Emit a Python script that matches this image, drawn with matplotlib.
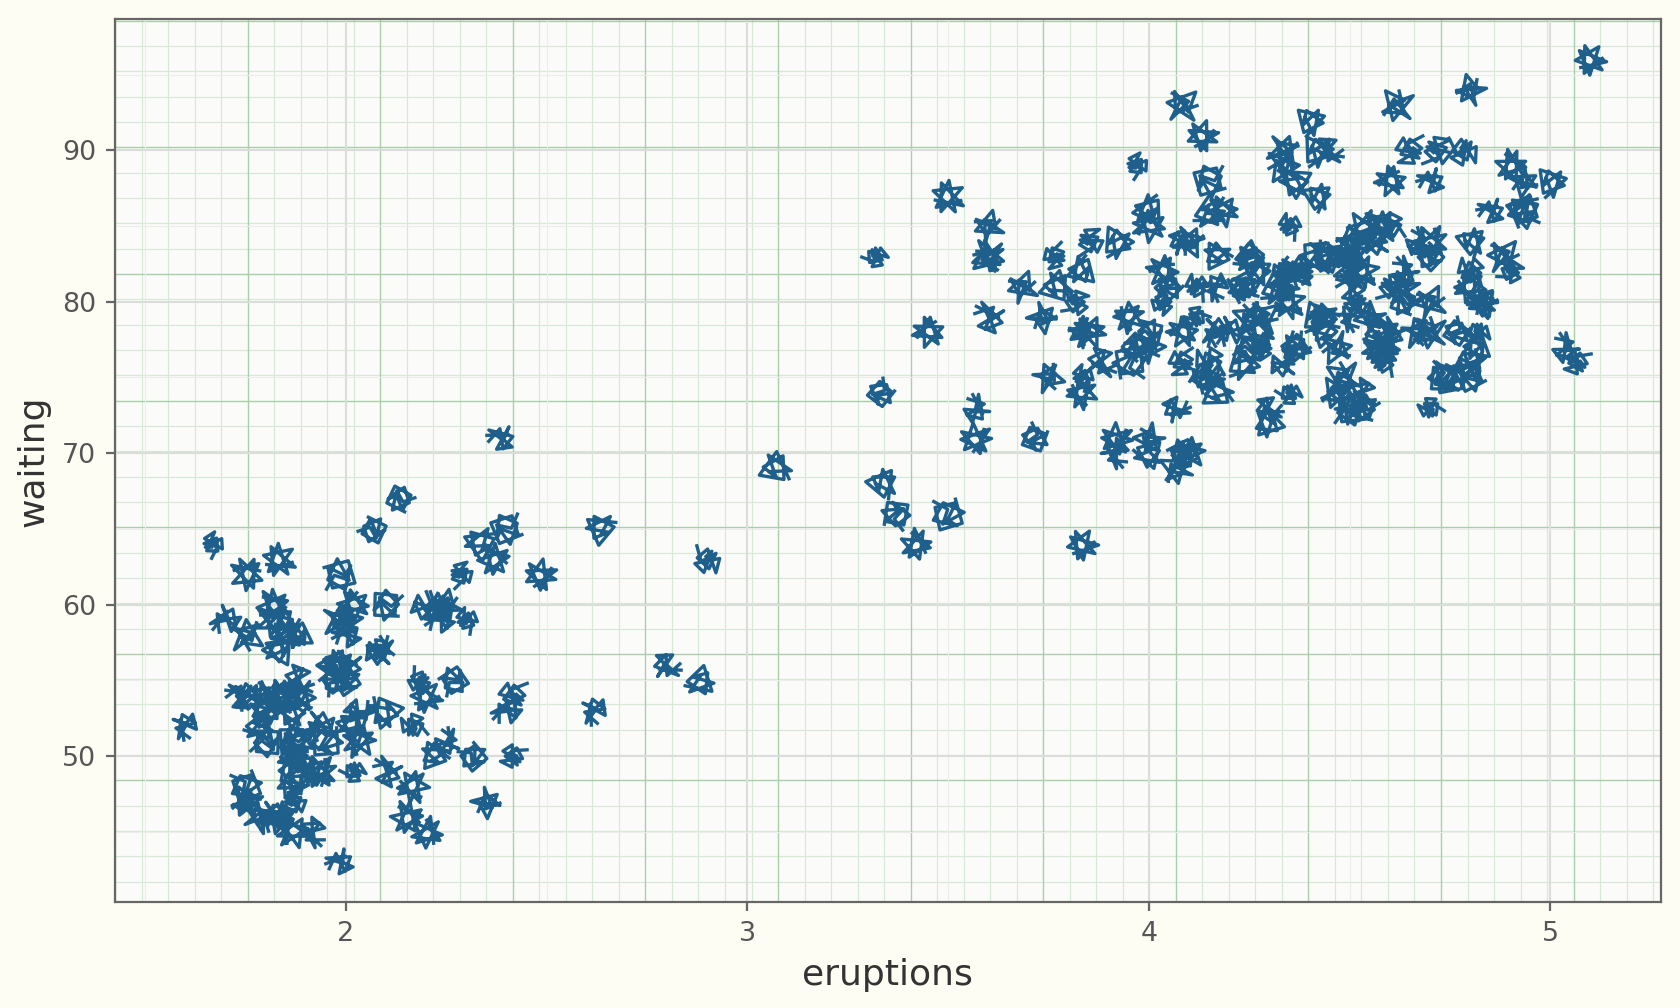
import numpy as np
import matplotlib
matplotlib.use("Agg")
import matplotlib.pyplot as plt
from matplotlib.path import Path
from matplotlib.markers import MarkerStyle
from matplotlib.collections import LineCollection
from matplotlib.ticker import MultipleLocator

# Old Faithful geyser data
eruptions = [3.600, 1.800, 3.333, 2.283, 4.533, 2.883, 4.700, 3.600, 1.950, 4.350,
             1.833, 3.917, 4.200, 1.750, 4.700, 2.167, 1.750, 4.800, 1.600, 4.250,
             1.800, 1.750, 3.450, 3.067, 4.533, 3.600, 1.967, 4.083, 3.850, 4.433,
             4.300, 4.467, 3.367, 4.033, 3.833, 2.017, 1.867, 4.833, 1.833, 4.783,
             4.350, 1.883, 4.567, 1.750, 4.533, 3.317, 3.833, 2.100, 4.633, 2.000,
             4.800, 4.716, 1.833, 4.833, 1.733, 4.883, 3.717, 1.667, 4.567, 4.317,
             2.233, 4.500, 1.750, 4.800, 1.817, 4.400, 4.167, 4.700, 2.067, 4.700,
             4.033, 1.967, 4.500, 4.000, 1.983, 5.067, 2.017, 4.567, 3.883, 3.600,
             4.133, 4.333, 4.100, 2.633, 4.067, 4.933, 3.950, 4.517, 2.167, 4.000,
             2.200, 4.333, 1.867, 4.817, 1.833, 4.300, 4.667, 3.750, 1.867, 4.900,
             2.483, 4.367, 2.100, 4.500, 4.050, 1.867, 4.700, 1.783, 4.850, 3.683,
             4.733, 2.300, 4.900, 4.417, 1.700, 4.633, 2.317, 4.600, 1.817, 4.417,
             2.617, 4.067, 4.250, 1.967, 4.600, 3.767, 1.917, 4.500, 2.267, 4.650,
             1.867, 4.167, 2.800, 4.333, 1.833, 4.383, 1.883, 4.933, 2.033, 3.733,
             4.233, 2.233, 4.533, 4.817, 4.333, 1.983, 4.633, 2.017, 5.100, 1.800,
             5.033, 4.000, 2.400, 4.600, 3.567, 4.000, 4.500, 4.083, 1.800, 3.967,
             2.200, 4.150, 2.000, 3.833, 3.500, 4.583, 2.367, 5.000, 1.933, 4.617,
             1.917, 2.083, 4.583, 3.333, 4.167, 4.333, 4.500, 2.417, 4.000, 4.167,
             1.883, 4.583, 4.250, 3.767, 2.033, 4.433, 4.083, 1.833, 4.417, 2.183,
             4.800, 1.833, 4.800, 4.100, 3.966, 4.233, 3.500, 4.366, 2.250, 4.667,
             2.100, 4.350, 4.133, 1.867, 4.600, 1.783, 4.367, 3.850, 1.933, 4.500,
             2.383, 4.700, 1.867, 3.833, 3.417, 4.233, 2.400, 4.800, 2.000, 4.150,
             1.867, 4.267, 1.750, 4.483, 4.000, 4.117, 4.083, 4.267, 3.917, 4.550,
             4.083, 2.417, 4.183, 2.217, 4.450, 1.883, 1.850, 4.283, 3.950, 2.333,
             4.150, 2.350, 4.933, 2.900, 4.583, 3.833, 2.083, 4.367, 2.133, 4.350,
             2.200, 4.450, 3.567, 4.500, 4.150, 3.817, 3.917, 4.450, 2.000, 4.283,
             4.767, 4.533, 1.850, 4.250, 1.983, 2.250, 4.750, 4.117, 2.150, 4.417,
             1.817, 4.467]
waiting = [79, 54, 74, 62, 85, 55, 88, 85, 51, 85, 54, 84, 78, 47, 83, 52, 62, 84, 52, 79,
           51, 47, 78, 69, 74, 83, 55, 76, 78, 79, 73, 77, 66, 80, 74, 52, 48, 80, 59, 90,
           80, 58, 84, 58, 73, 83, 64, 53, 82, 59, 75, 90, 54, 80, 54, 83, 71, 64, 77, 81,
           59, 84, 48, 82, 60, 92, 78, 78, 65, 73, 82, 56, 79, 71, 62, 76, 60, 78, 76, 83,
           75, 82, 70, 65, 73, 88, 76, 80, 48, 86, 60, 90, 50, 78, 63, 72, 84, 75, 51, 82,
           62, 88, 49, 83, 81, 47, 84, 52, 86, 81, 75, 59, 89, 79, 59, 81, 50, 85, 59, 87,
           53, 69, 77, 56, 88, 81, 45, 82, 55, 90, 45, 83, 56, 89, 46, 82, 51, 86, 53, 79,
           81, 60, 82, 77, 76, 59, 80, 49, 96, 53, 77, 77, 65, 81, 71, 70, 81, 93, 53, 89,
           45, 86, 58, 78, 66, 76, 63, 88, 52, 93, 49, 57, 77, 68, 81, 81, 73, 50, 85, 74,
           55, 77, 83, 83, 51, 78, 84, 46, 83, 55, 81, 57, 76, 84, 77, 81, 87, 77, 51, 78,
           60, 82, 91, 53, 78, 46, 77, 84, 49, 83, 71, 80, 49, 75, 64, 76, 53, 94, 55, 76,
           50, 82, 54, 75, 78, 79, 78, 78, 70, 79, 70, 54, 86, 50, 90, 54, 54, 77, 79, 64,
           75, 47, 86, 63, 85, 82, 57, 82, 67, 74, 54, 83, 73, 73, 88, 80, 71, 83, 56, 79,
           78, 84, 58, 83, 43, 60, 75, 81, 46, 90, 46, 74]

xticks = [2, 3, 4, 5]
yticks = [50, 60, 70, 80, 90]

ink = "#1f5f8b"

# hand drawn scribble glyphs (marker shapes)
glyphs = [
    [(-0.9, 0.2), (0.3, 0.6), (-0.2, -0.7), (0.8, -0.3), (-0.4, 0.9), (0.1, -0.2),
     (0.9, 0.4), (-0.6, -0.5), (0.4, -0.9), (-0.1, 0.5), (0.6, 0.0), (-0.8, 0.7)],
    [(0.2, -0.9), (-0.5, 0.3), (0.7, 0.6), (-0.3, -0.4), (0.9, -0.6), (0.0, 0.9),
     (-0.7, -0.8), (0.5, 0.1), (-0.9, 0.5), (0.3, -0.3), (0.6, 0.8)],
    [(-0.5, -0.9), (-0.7, 0.6), (0.6, 0.8), (0.7, -0.5), (-0.5, -0.6), (0.1, 0.3),
     (-0.4, 0.7), (0.9, 0.2), (0.2, -0.7), (-0.9, 0.0), (0.4, 0.5), (0.0, -0.3),
     (0.8, -0.9)],
    [(0.9, 0.9), (-0.2, 0.4), (0.5, -0.5), (-0.6, -0.2), (0.0, 0.7), (0.7, 0.1),
     (-0.8, -0.7), (0.2, -0.8), (-0.4, 0.8), (-0.9, 0.1), (0.6, -0.2), (0.1, 0.2)],
    [(-0.8, 0.1), (0.6, 0.7), (0.1, -0.9), (-0.5, 0.8), (0.9, -0.2), (-0.7, -0.6),
     (0.3, 0.9), (0.5, -0.7), (-0.9, 0.4), (0.8, 0.3)],
    [(-0.8, -0.7), (0.9, -0.3), (-0.2, 0.9), (-0.7, -0.4), (0.6, -0.6), (0.2, 0.6),
     (-0.5, 0.0), (0.8, 0.2), (-0.3, -0.9), (-0.1, 0.4)],
]

fig = plt.figure(figsize=(8.4, 5.04), dpi=200, facecolor="#fefdf4")
ax = fig.add_axes([0.0685, 0.1049, 0.9200, 0.8760])
ax.set_facecolor("#fbfbf9")

ax.set_xlim(1.425, 5.275)
ax.set_ylim(40.35, 98.65)

# graph paper grid, fixed to the panel
segs_min, segs_maj = [], []
dx = 26.52 / 1545.7
dy = 25.33 / 883.0
k = 0
while k * dx <= 1.0:
    s = [(k * dx, 0), (k * dx, 1)]
    (segs_maj if k % 5 == 0 else segs_min).append(s)
    k += 1
k = 0
while k * dy <= 1.0:
    yy = 1.0 - 0.0015 - k * dy
    s = [(0, yy), (1, yy)]
    (segs_maj if k % 5 == 0 else segs_min).append(s)
    k += 1
ax.add_collection(LineCollection(segs_min, colors="#d6e8d6", linewidths=0.4,
                                 transform=ax.transAxes, zorder=0.1))
ax.add_collection(LineCollection(segs_maj, colors="#a9cea9", linewidths=0.5,
                                 transform=ax.transAxes, zorder=0.2))

ax.set_xticks(xticks)
ax.set_yticks(yticks)
ax.xaxis.set_minor_locator(MultipleLocator(0.5))
ax.yaxis.set_minor_locator(MultipleLocator(5))
ax.set_axisbelow(True)
ax.grid(which="major", color="#dcdcdc", linewidth=0.75)
ax.grid(which="minor", color="#ececec", linewidth=0.4)

for i, (x, y) in enumerate(zip(eruptions, waiting)):
    g = np.array(glyphs[i % 6])
    a = np.deg2rad((i * 67) % 360)
    rot = np.array([[np.cos(a), -np.sin(a)], [np.sin(a), np.cos(a)]])
    v = g @ rot.T
    m = MarkerStyle(Path(v), fillstyle="none", joinstyle="round")
    ax.plot(x, y, ls="none", marker=m, ms=11.0 + (i % 3) * 0.6,
            mec=ink, mfc="none", mew=1.2, zorder=3)

for sp in ax.spines.values():
    sp.set_color("#666666")
    sp.set_linewidth(0.8)
ax.tick_params(which="major", length=3.3, width=0.8, color="#666666",
               labelsize=9.7, labelcolor="#555555", pad=3.5)
ax.tick_params(which="minor", length=0)

ax.set_xlabel("eruptions", fontsize=13, color="#333333", labelpad=4)
ax.set_ylabel("waiting", fontsize=13, color="#333333", labelpad=4)

fig.savefig("out.png", dpi=200, facecolor=fig.get_facecolor())
